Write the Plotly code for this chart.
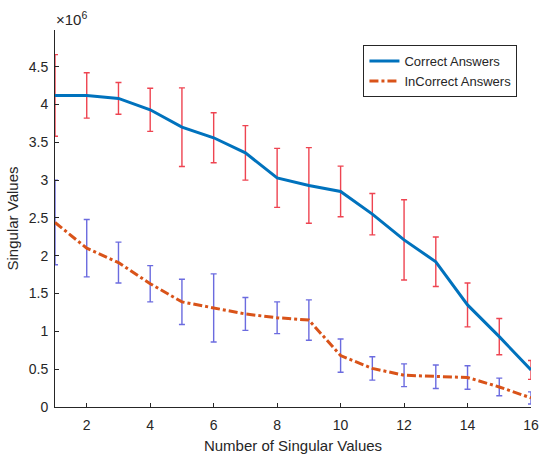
import plotly.graph_objects as go

n_values = list(range(1, 17))
correct_vals = [4.12, 4.12, 4.08, 3.93, 3.70, 3.56, 3.36, 3.03, 2.93, 2.85, 2.55, 2.21, 1.92, 1.35, 0.93, 0.49]
correct_err = [0.54, 0.30, 0.21, 0.285, 0.52, 0.33, 0.36, 0.39, 0.50, 0.335, 0.274, 0.53, 0.327, 0.29, 0.24, 0.125]
incorrect_vals = [2.44, 2.10, 1.91, 1.63, 1.39, 1.31, 1.23, 1.18, 1.15, 0.68, 0.51, 0.42, 0.40, 0.39, 0.265, 0.12]
incorrect_err = [0.56, 0.38, 0.27, 0.24, 0.30, 0.45, 0.217, 0.21, 0.267, 0.22, 0.155, 0.15, 0.155, 0.155, 0.117, 0.08]
y_ticks = [0, 0.5, 1, 1.5, 2, 2.5, 3, 3.5, 4, 4.5]
x_ticks = [2, 4, 6, 8, 10, 12, 14, 16]

fig = go.Figure()

fig.add_trace(go.Scatter(
    x=n_values, y=correct_vals, mode="markers", marker=dict(size=1, opacity=0),
    error_y=dict(type="data", array=correct_err, color="rgba(235,35,50,0.85)", thickness=1.4, width=3),
    showlegend=False, hoverinfo="skip"))
fig.add_trace(go.Scatter(
    x=n_values, y=incorrect_vals, mode="markers", marker=dict(size=1, opacity=0),
    error_y=dict(type="data", array=incorrect_err, color="rgba(70,70,215,0.8)", thickness=1.4, width=3),
    showlegend=False, hoverinfo="skip"))

fig.add_trace(go.Scatter(
    x=n_values, y=correct_vals, mode="lines", name="Correct Answers",
    line=dict(color="#0072BD", width=3)))
fig.add_trace(go.Scatter(
    x=n_values, y=incorrect_vals, mode="lines", name="InCorrect Answers",
    line=dict(color="#D95319", width=3, dash="9px,3px,3px,3px")))

axis_color = "#262626"
fig.update_layout(
    width=542, height=456,
    margin=dict(l=55, r=11, t=30, b=49),
    paper_bgcolor="white", plot_bgcolor="white",
    font=dict(family="Liberation Sans, Arial, sans-serif", color=axis_color, size=14),
    showlegend=True,
    legend=dict(x=0.648, y=0.96, xanchor="left", yanchor="top",
                bgcolor="white", bordercolor=axis_color, borderwidth=1,
                font=dict(size=13), tracegroupgap=0, itemwidth=30),
    xaxis=dict(range=[1, 16], tickvals=x_ticks, ticks="inside", ticklen=4,
               tickcolor=axis_color, showline=True, linecolor=axis_color, linewidth=1,
               showgrid=False, zeroline=False, mirror=False, ticklabelstandoff=5,
               tickfont=dict(size=14), automargin=False,
               title=dict(text="Number of Singular Values", font=dict(size=15), standoff=8)),
    yaxis=dict(range=[0, 4.985], tickvals=y_ticks, ticktext=[f"{v:g}" for v in y_ticks],
               ticks="inside", ticklen=4, tickfont=dict(size=14), ticklabelstandoff=3,
               tickcolor=axis_color, showline=True, linecolor=axis_color, linewidth=1,
               showgrid=False, zeroline=False, mirror=False, automargin=False,
               title=dict(text="Singular Values", font=dict(size=15), standoff=6)),
)

fig.add_annotation(x=0, y=1.0, xref="paper", yref="paper", xanchor="left", yanchor="bottom",
                   text="×10<sup>6</sup>", showarrow=False, font=dict(size=15, color=axis_color),
                   yshift=0, xshift=-1)

fig.write_html("out.html")
